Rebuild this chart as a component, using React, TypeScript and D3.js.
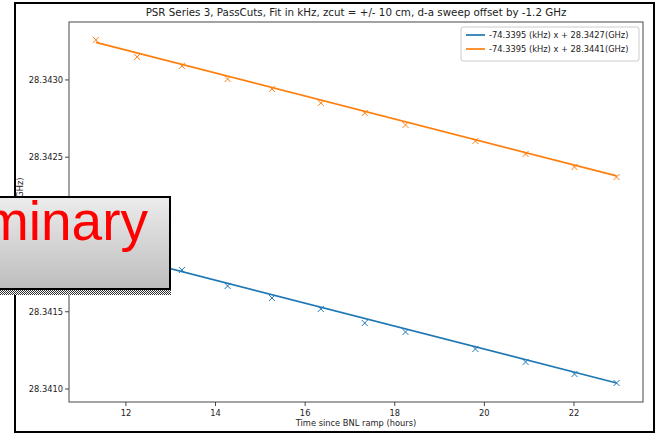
import React from "react";
import * as d3 from "d3";

// hours since BNL ramp
const hours = [11.33, 12.25, 13.25, 14.27, 15.26, 16.35, 17.33, 18.24, 19.8, 20.92, 22.01, 22.95];
// measured frequencies (GHz)
const freqBlue = [
  28.341919, 28.341809, 28.34177, 28.341667, 28.341589, 28.341518,
  28.341427, 28.341369, 28.341259, 28.341175, 28.341097, 28.341039,
];
const freqOrange = [
  28.343259, 28.343149, 28.343091, 28.343006, 28.342942, 28.342851,
  28.342786, 28.342709, 28.342605, 28.342521, 28.342437, 28.342372,
];
// linear fits: slope in GHz / hour, intercepts in GHz
const fitSlope = -74.3395e-6;
const fitIntercepts = [28.342745, 28.344085];
const legendLabels = ["-74.3395 (kHz) x + 28.3427(GHz)", "-74.3395 (kHz) x + 28.3441(GHz)"];
const seriesColors = ["#1f77b4", "#ff7f0e"];
const xTicks = [12, 14, 16, 18, 20, 22];
const yTicks = [28.341, 28.3415, 28.342, 28.3425, 28.343];

const W = 655;
const H = 433;
const FONT = "DejaVu Sans, sans-serif";

export default function App() {
  const left = 69, right = 643, top = 22, bottom = 402;
  const x = d3.scaleLinear().domain([10.73, 23.54]).range([left, right]);
  const y = d3.scaleLinear().domain([28.340916, 28.343375]).range([bottom, top]);
  const fmt = d3.format(".4f");

  const series = [freqBlue, freqOrange];
  const xExtent = d3.extent(hours) as [number, number];

  // fit line over the measured time span
  const fitPath = (k: number) =>
    d3
      .line<number>()
      .x((d) => x(d))
      .y((d) => y(fitIntercepts[k] + fitSlope * d))(xExtent) || "";

  return (
    <div style={{ position: "absolute", left: 0, top: 0 }}>
      <svg width={W} height={H} style={{ display: "block", background: "#fff" }}>
        <defs>
          <linearGradient id="boxGrad" x1="0" y1="0" x2="0" y2="1">
            <stop offset="0" stopColor="#ececec" />
            <stop offset="1" stopColor="#bdbdbd" />
          </linearGradient>
          <pattern id="checker" width="2" height="2" patternUnits="userSpaceOnUse">
            <rect width="2" height="2" fill="#fff" />
            <rect width="1" height="1" fill="#333" />
            <rect x="1" y="1" width="1" height="1" fill="#333" />
          </pattern>
        </defs>

        {/* outer figure frame */}
        <rect x={15} y={3} width={639} height={429} fill="#fff" stroke="#000" strokeWidth={2} />

        {/* title */}
        <text x={(left + right) / 2} y={16} textAnchor="middle" fontFamily={FONT} fontSize={10.3} fill="#222">
          PSR Series 3, PassCuts, Fit in kHz, zcut = +/- 10 cm, d-a sweep offset by -1.2 GHz
        </text>

        {/* axes frame */}
        <rect x={left} y={top} width={right - left} height={bottom - top} fill="none" stroke="#666" strokeWidth={1.2} />

        {/* x ticks */}
        {xTicks.map((t) => (
          <g key={t}>
            <line x1={x(t)} x2={x(t)} y1={bottom} y2={bottom + 4} stroke="#444" />
            <text x={x(t)} y={bottom + 14} textAnchor="middle" fontFamily={FONT} fontSize={8.3} fill="#222">
              {t}
            </text>
          </g>
        ))}
        <text x={(left + right) / 2} y={426} textAnchor="middle" fontFamily={FONT} fontSize={8.3} fill="#222">
          Time since BNL ramp (hours)
        </text>

        {/* y ticks */}
        {yTicks.map((t) => (
          <g key={t}>
            <line x1={left - 4} x2={left} y1={y(t)} y2={y(t)} stroke="#444" />
            <text x={left - 6} y={y(t) + 3} textAnchor="end" fontFamily={FONT} fontSize={8.3} fill="#222">
              {fmt(t)}
            </text>
          </g>
        ))}
        <text
          transform={`translate(23, ${(top + bottom) / 2}) rotate(-90)`}
          textAnchor="middle"
          fontFamily={FONT}
          fontSize={8.3}
          fill="#222"
        >
          Frequency (GHz)
        </text>

        {/* fits and measurements */}
        {series.map((vals, k) => (
          <g key={k}>
            <path d={fitPath(k)} fill="none" stroke={seriesColors[k]} strokeWidth={1.7} />
            {vals.map((v, i) => {
              const cx = x(hours[i]);
              const cy = y(v);
              const s = 3;
              return (
                <path
                  key={i}
                  d={`M${cx - s},${cy - s}L${cx + s},${cy + s}M${cx - s},${cy + s}L${cx + s},${cy - s}`}
                  stroke={seriesColors[k]}
                  strokeWidth={1}
                  fill="none"
                />
              );
            })}
          </g>
        ))}

        {/* legend */}
        <rect x={461} y={27} width={178} height={34} rx={2} fill="#fff" fillOpacity={0.8} stroke="#ccc" />
        {legendLabels.map((lab, k) => (
          <g key={k}>
            <line x1={466} x2={485} y1={35 + k * 14} y2={35 + k * 14} stroke={seriesColors[k]} strokeWidth={1.7} />
            <text x={489} y={38 + k * 14} fontFamily={FONT} fontSize={8.3} fill="#222">
              {lab}
            </text>
          </g>
        ))}

        {/* preliminary stamp, partly off the left edge like the original */}
        <rect x={-10} y={197} width={180} height={92} fill="url(#boxGrad)" stroke="#000" strokeWidth={2} />
        <rect x={0} y={290} width={171} height={5} fill="url(#checker)" />
        <text x={148} y={240} textAnchor="end" fontFamily="Liberation Sans, Arial, sans-serif" fontSize={55} fill="#ff0000">
          Preliminary
        </text>
      </svg>
    </div>
  );
}
